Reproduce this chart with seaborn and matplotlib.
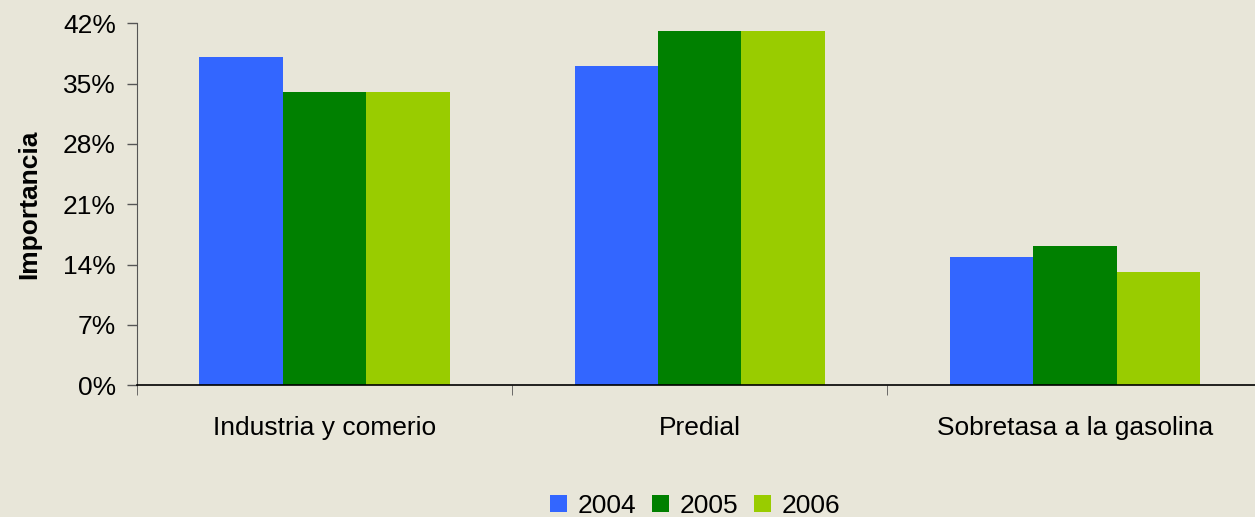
import pandas as pd
import seaborn as sns
import matplotlib.pyplot as plt
from matplotlib.ticker import FuncFormatter, FixedLocator

categories = ["Industria y comerio", "Predial", "Sobretasa a la gasolina"]
years = ["2004", "2005", "2006"]
v2004 = [38.1, 37.0, 14.9]
v2005 = [34.0, 41.1, 16.1]
v2006 = [34.0, 41.1, 13.1]
colors = ["#3366FF", "#008000", "#99CC00"]
bg = "#E8E6D9"

df = pd.DataFrame({
    "categoria": categories * 3,
    "anio": [y for y in years for _ in categories],
    "valor": v2004 + v2005 + v2006,
})

sns.set_style("white")
plt.rcParams["font.family"] = ["Liberation Sans", "DejaVu Sans"]
plt.rcParams["text.color"] = "black"
plt.rcParams["xtick.color"] = "black"
plt.rcParams["ytick.color"] = "black"
plt.rcParams["axes.labelcolor"] = "black"

fs = 19
fig = plt.figure(figsize=(12.55, 5.17), dpi=100, facecolor=bg)
ax = fig.add_axes([0.109, 0.255, 0.897, 0.70])
ax.set_facecolor(bg)

sns.barplot(data=df, x="categoria", y="valor", hue="anio", palette=colors,
            width=0.667, saturation=1, gap=0, ax=ax, linewidth=0)

ax.set_xlim(-0.5, 2.5)
ax.set_ylim(0, 42)
ax.set_yticks(range(0, 43, 7))
ax.yaxis.set_major_formatter(FuncFormatter(lambda v, p: f"{v:.0f}%"))
ax.tick_params(axis="y", direction="out", length=7, width=1, color="#555555",
               labelsize=fs, left=True, pad=8)
ax.tick_params(axis="x", which="major", length=0, labelsize=fs, pad=22)
ax.xaxis.set_minor_locator(FixedLocator([-0.5, 0.5, 1.5, 2.5]))
ax.tick_params(axis="x", which="minor", direction="out", length=7, color="#555555", bottom=True)

for s in ["top", "right"]:
    ax.spines[s].set_visible(False)
ax.spines["left"].set_color("#555555")
ax.spines["bottom"].set_color("black")
ax.spines["bottom"].set_linewidth(1.2)

ax.set_xlabel("")
ax.set_ylabel("Importancia", fontsize=fs, fontweight="bold", labelpad=16)

handles, labels = ax.get_legend_handles_labels()
ax.get_legend().remove()
fig.legend(handles, labels, loc="center", bbox_to_anchor=(0.554, 0.022), ncol=3,
           frameon=False, fontsize=fs, handlelength=0.65, handleheight=0.65,
           handletextpad=0.4, columnspacing=0.6, borderpad=0)

fig.savefig("out.png", dpi=100, facecolor=bg)
